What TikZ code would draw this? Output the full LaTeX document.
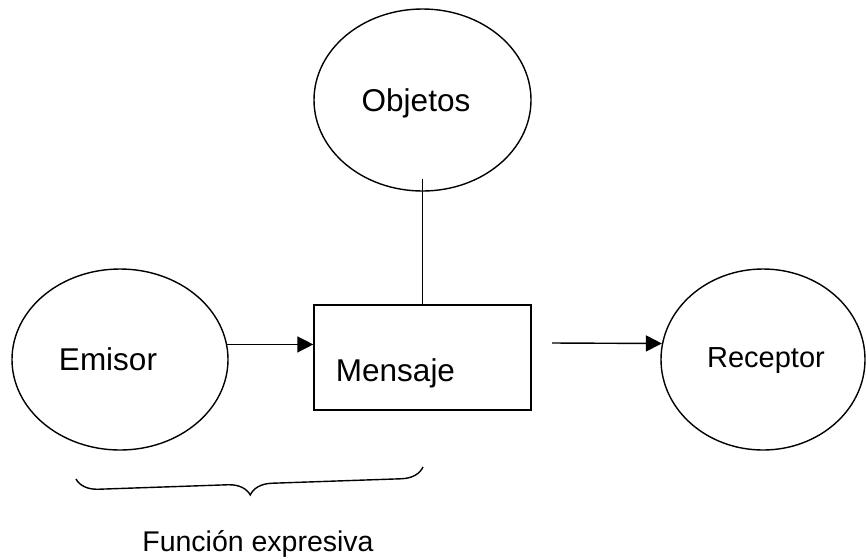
\documentclass[tikz,border=0pt]{standalone}
\usepackage{fontspec}
\setmainfont{Liberation Sans}
\usetikzlibrary{shapes.geometric,arrows.meta,decorations.pathreplacing}
\begin{document}
\begin{tikzpicture}[x=1pt,y=-1pt,
  line width=1.4pt,
  oval/.style={draw,ellipse,inner sep=0pt},
  boxshape/.style={draw,rectangle,inner sep=0pt},
  lbl/.style={inner sep=0pt,anchor=base,font=\fontsize{31.5}{36}\selectfont},
  arr/.style={-{Triangle[length=16pt,width=16pt]}}
]
\useasboundingbox (0,0) rectangle (866,558);
% shapes
\node[oval,minimum width=217pt,minimum height=182pt] (objetos) at (422.5,100) {};
\node[oval,minimum width=216pt,minimum height=181pt] (emisor) at (120,359.5) {};
\node[oval,minimum width=204pt,minimum height=181pt] (receptor) at (763,359.5) {};
\node[boxshape,minimum width=217pt,minimum height=105pt] (mensaje) at (422.5,357.5) {};
% labels
\node[lbl] (objetoslbl) at (416,111) {Objetos};
\node[lbl] (emisorlbl) at (108,370) {Emisor};
\node[lbl] (mensajelbl) at (395.5,381.5) {Mensaje};
\node[lbl,font=\fontsize{29}{34}\selectfont] (receptorlbl) at (766,367.5) {Receptor};
\node[lbl,font=\fontsize{28.5}{34}\selectfont] (funclbl) at (258,551) {Función expresiva};
% connectors
\draw ([yshift=13pt]objetos.south) -- (mensaje.north);
\draw[arr] (emisor.8.6) -- (emisor.8.6 -| mensaje.west);
\coordinate (a2start) at (552,343);
\draw[arr] (a2start) -- (receptor.171);
% brace
\coordinate (bl) at (76,479);
\coordinate (br) at (423,467);
\draw[decorate,decoration={brace,amplitude=22pt}] (br) -- (bl);
\end{tikzpicture}
\end{document}
